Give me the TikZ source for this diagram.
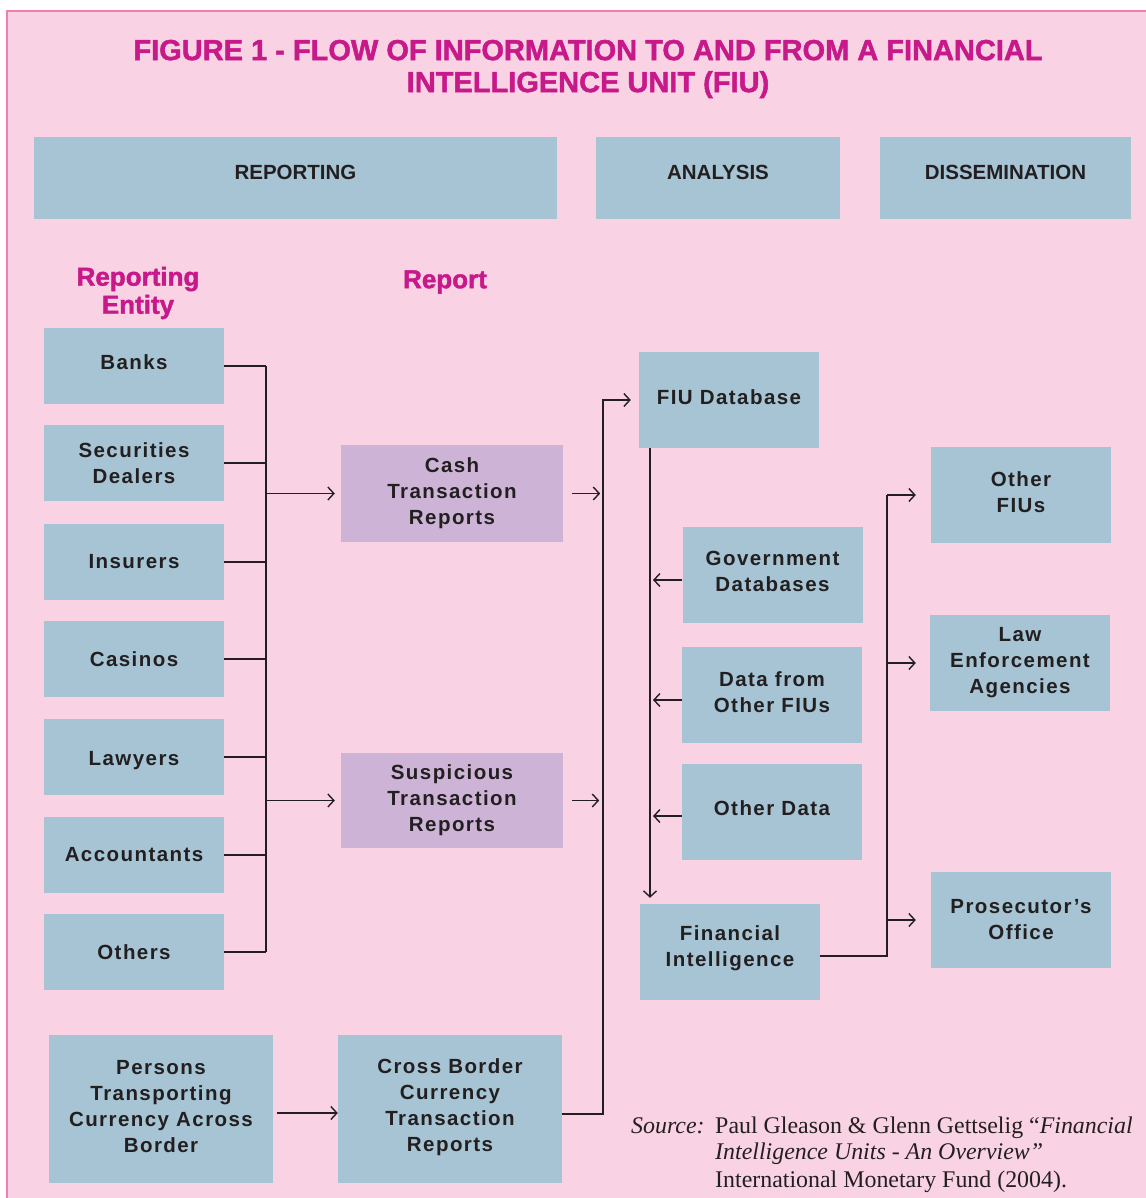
\documentclass[tikz,border=0pt]{standalone}
\usepackage{fontspec}
\setmainfont{Liberation Serif}
\setsansfont{Liberation Sans}
\newfontfamily\boxfont[LetterSpace=7]{Liberation Sans}
\newfontfamily\heavyfont[FakeBold=1.6]{Liberation Sans Bold}
\usetikzlibrary{arrows.meta}
\definecolor{bgpink}{HTML}{F9D3E4}
\definecolor{framepink}{HTML}{EE7FB0}
\definecolor{boxblue}{HTML}{A6C4D4}
\definecolor{boxlav}{HTML}{CDB4D6}
\definecolor{titlemag}{HTML}{C8198A}
\definecolor{ink}{HTML}{231F20}
\begin{document}
\begin{tikzpicture}[x=1pt,y=-1pt,
  ebox/.style={fill=boxblue, text=ink, inner sep=0pt, align=center,
    font=\boxfont\bfseries\fontsize{20.5}{26}\selectfont},
  lbox/.style={ebox, fill=boxlav},
  hbox/.style={fill=boxblue, text=ink, inner sep=0pt, align=center, minimum height=82pt,
    text height=15pt, text depth=12pt,
    font=\sffamily\bfseries\fontsize{20.5}{24}\selectfont},
  lbl/.style={text=titlemag, align=center, inner sep=0pt,
    font=\heavyfont\fontsize{26}{28}\selectfont},
  lift/.style={text depth=#1},
  conn/.style={draw=ink, line width=1.4pt},
  arr/.style={conn, -{Straight Barb[length=6pt,width=13pt]}},
  srcfont/.style={anchor=base west, inner sep=0pt, text=ink, font=\fontsize{23.9}{27}\selectfont}
]
\useasboundingbox (0,0) rectangle (1145,1198);
\fill[white] (0,0) rectangle (1145,1198);
\draw[draw=framepink, fill=bgpink, line width=2pt] (7,11) rectangle (1170,1220);

% title
\node[text=titlemag, align=center, inner sep=0pt,
  font=\heavyfont\fontsize{29}{32}\selectfont] (title) at (588,69)
  {FIGURE 1 - FLOW OF INFORMATION TO AND FROM A FINANCIAL\\INTELLIGENCE UNIT (FIU)};

% headers
\node[hbox, minimum width=523pt] (hrep) at (295.5,178) {REPORTING};
\node[hbox, minimum width=244pt] (hana) at (718,178) {ANALYSIS};
\node[hbox, minimum width=251pt] (hdis) at (1005.5,178) {DISSEMINATION};

% column labels
\node[lbl] (entlbl) at (138,293) {Reporting\\Entity};
\node[lbl] (replbl) at (445,282) {Report};

% reporting entities
\tikzset{ent/.style={ebox, minimum width=180pt, minimum height=76pt}}
\node[ent, lift=7pt] (banks) at (134,366) {Banks};
\node[ent] (secur) at (134,463) {Securities\\Dealers};
\node[ent] (insur) at (134,562) {Insurers};
\node[ent] (casin) at (134,659) {Casinos};
\node[ent, text height=21pt] (lawyr) at (134,757) {Lawyers};
\node[ent] (accnt) at (134,855) {Accountants};
\node[ent] (other) at (134,952) {Others};

% reports
\node[lbox, minimum width=222pt, minimum height=97pt] (cash) at (452,493.5) {Cash\\Transaction\\Reports};
\node[lbox, minimum width=222pt, minimum height=95pt] (susp) at (452,800.5) {Suspicious\\Transaction\\Reports};

% analysis
\tikzset{abox/.style={ebox, minimum width=180pt, minimum height=96pt}}
\node[abox, lift=6pt] (fiudb) at (729,400) {FIU Database};
\node[abox, lift=7pt] (gov) at (772.5,575) {Government\\Databases};
\node[abox, lift=5pt] (dfiu) at (772,695) {Data from\\Other FIUs};
\node[abox, lift=8pt] (odata) at (772,812) {Other Data};
\node[abox, lift=11pt] (fin) at (730,952) {Financial\\Intelligence};

% dissemination
\node[abox, lift=6pt] (ofius) at (1021,495) {Other\\FIUs};
\node[abox] (law) at (1020,663) {Law\\Enforcement\\Agencies};
\node[abox] (pros) at (1021,920) {Prosecutor’s\\Office};

% cross border
\node[ebox, lift=5pt, minimum width=224pt, minimum height=148pt] (pers) at (161,1109) {Persons\\Transporting\\Currency Across\\Border};
\node[ebox, lift=8pt, minimum width=224pt, minimum height=148pt] (cross) at (450,1109) {Cross Border\\Currency\\Transaction\\Reports};

% bus coordinates
\coordinate (busL) at (266,0);
\coordinate (busM) at (603,0);
\coordinate (busD) at (650,0);
\coordinate (tipD) at (653,0);
\coordinate (busR) at (887,0);

% entities to reports
\foreach \n in {banks,secur,insur,casin,lawyr,accnt,other}
  \draw[conn] (\n.east) -- (\n.east -| busL);
\draw[conn] (banks.east -| busL) -- (other.east -| busL);
\draw[arr] (cash.west -| busL) -- ([xshift=-6pt]cash.west);
\draw[arr] (susp.west -| busL) -- ([xshift=-6pt]susp.west);

% reports to FIU database
\draw[arr] ([xshift=9pt]cash.east) -- ([xshift=37pt]cash.east);
\draw[arr] ([xshift=9pt]susp.east) -- ([xshift=36pt]susp.east);
\draw[arr] ([yshift=-5pt]cross.east) -| (busM |- fiudb.west) -- ([xshift=-8pt]fiudb.west);
\draw[arr] ([xshift=4pt,yshift=-4pt]pers.east) -- ([yshift=-4pt]cross.west);

% analysis
\draw[arr] (fiudb.south -| busD) -- ([yshift=6pt]fin.north -| busD);
\draw[arr] ([yshift=-5pt]gov.west) -- ([yshift=-5pt]gov.west -| tipD);
\draw[arr] ([yshift=-5pt]dfiu.west) -- ([yshift=-5pt]dfiu.west -| tipD);
\draw[arr] ([yshift=-4pt]odata.west) -- ([yshift=-4pt]odata.west -| tipD);

% dissemination
\draw[conn] ([yshift=-4pt]fin.east) -| (busR |- ofius.west);
\draw[arr] (ofius.west -| busR) -- ([xshift=-15pt]ofius.west);
\draw[arr] (law.west -| busR) -- ([xshift=-14pt]law.west);
\draw[arr] (pros.west -| busR) -- ([xshift=-15pt]pros.west);

% source
\node[srcfont] (src0) at (631,1133) {\textit{Source:}};
\node[srcfont] (src1) at (715,1133) {Paul Gleason \& Glenn Gettselig “\textit{Financial}};
\node[srcfont] (src2) at (715,1159) {\textit{Intelligence Units - An Overview”}};
\node[srcfont] (src3) at (715,1187) {International Monetary Fund (2004).};
\end{tikzpicture}
\end{document}
